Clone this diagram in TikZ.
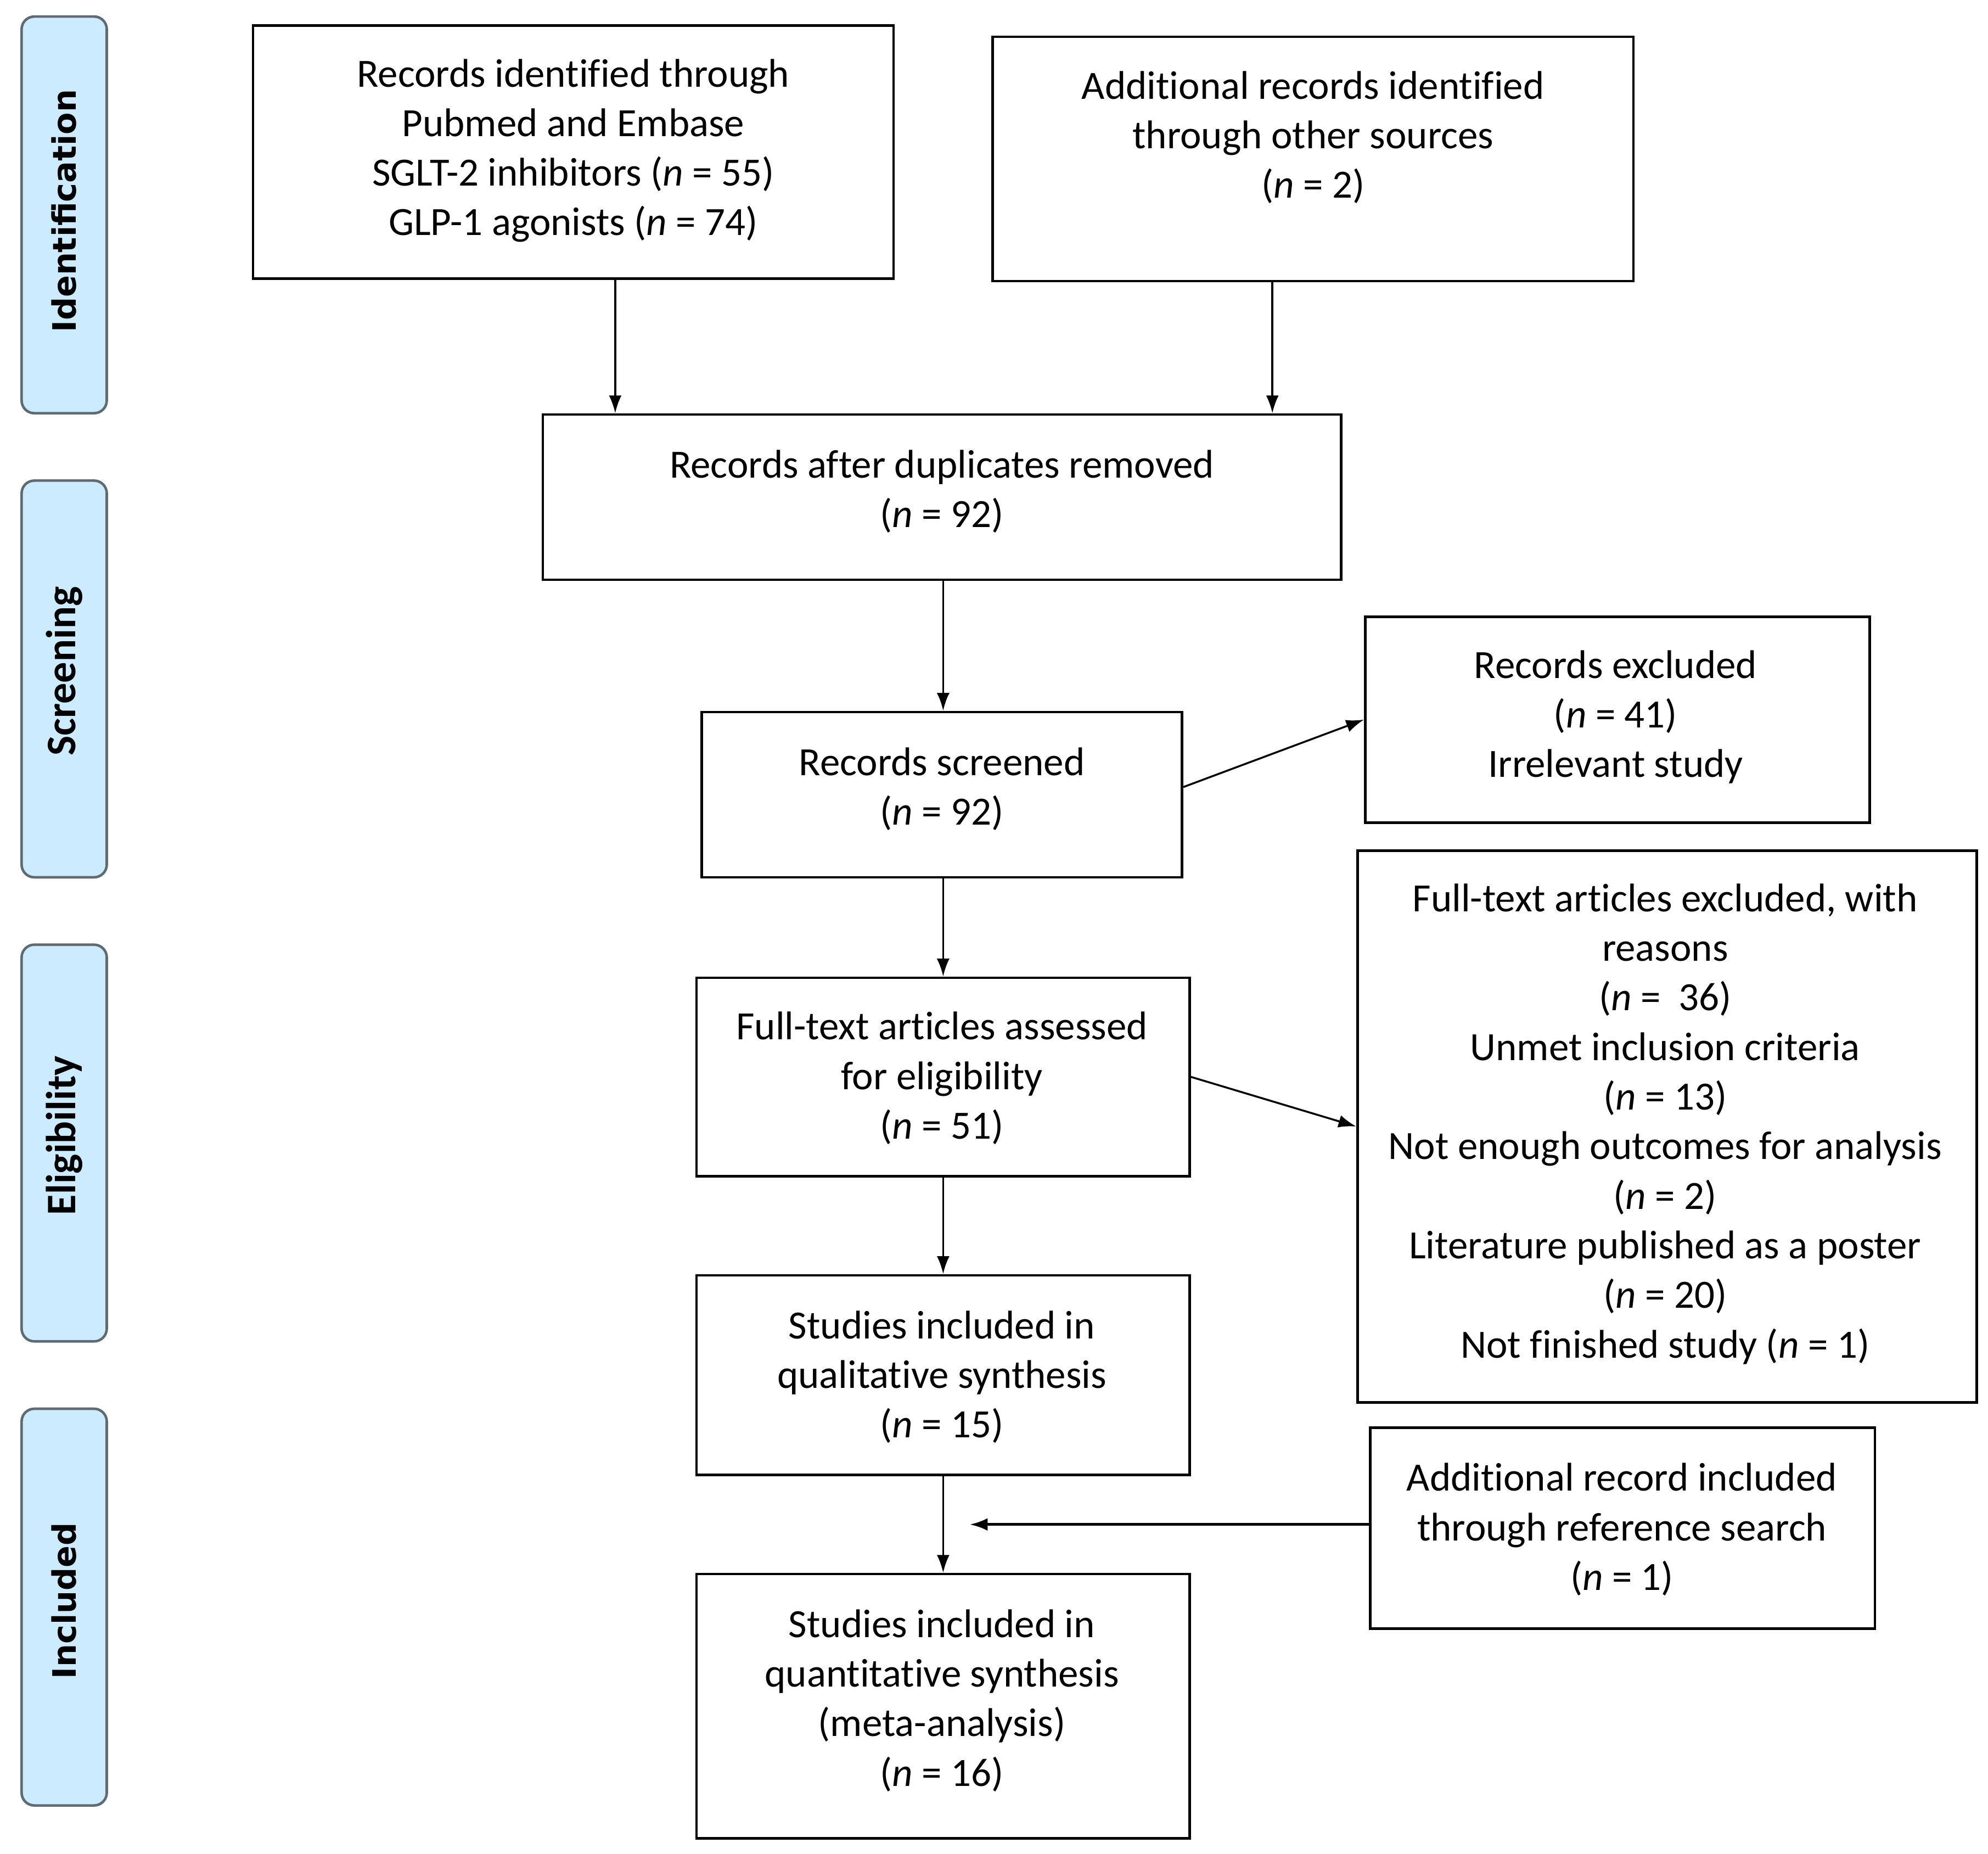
\documentclass[tikz,border=0pt]{standalone}
\usepackage{fontspec}
\setmainfont{Carlito}[Ligatures=NoCommon]
\newfontfamily\dejavu{DejaVu Sans}
\usetikzlibrary{arrows.meta}
\definecolor{tabfill}{HTML}{CCEBFE}
\definecolor{tabdraw}{HTML}{5F6B73}
\tikzset{
  box/.style={draw=black, line width=1pt, rectangle, inner sep=0pt},
  txt/.style={align=center, inner sep=0pt, font=\fontsize{15.75}{19.5}\selectfont},
  tab/.style={draw=tabdraw, line width=1pt, fill=tabfill, rounded corners=5pt,
    minimum width=33.5pt, minimum height=156pt, inner sep=0pt},
  tablabel/.style={rotate=90, inner sep=0pt},
  arr/.style={line width=0.75pt, -{Latex[length=7pt,width=5pt]}},
}
\begin{document}
\begin{tikzpicture}[x=0.5pt,y=-0.5pt]
\useasboundingbox (0,0) rectangle (1564,1458.2);
% phase tabs
\node[tab] (T1) at (50.5,169) {};
\node[tablabel, font=\dejavu\bfseries\fontsize{12.7}{14}\selectfont] (L1) at (50.5,166) {Identification};
\node[tab] (T2) at (50.5,534) {};
\node[tablabel, font=\bfseries\fontsize{16.5}{18}\selectfont] (L2) at (50.5,528) {Screening};
\node[tab] (T3) at (50.5,899) {};
\node[tablabel, font=\bfseries\fontsize{16.5}{18}\selectfont] (L3) at (50.5,893) {Eligibility};
\node[tab] (T4) at (50.5,1264) {};
\node[tablabel, font=\dejavu\bfseries\fontsize{12.7}{14}\selectfont] (L4) at (50.5,1259) {Included};
% boxes
\node[box, minimum width=252pt, minimum height=99.5pt] (A) at (451,119.5) {};
\node[txt] (At) at (451,118.5) {Records identified through\\Pubmed and Embase\\SGLT-2 inhibitors (\textit{n} = 55)\\GLP-1 agonists (\textit{n} = 74)};
\node[box, minimum width=252pt, minimum height=96pt] (B) at (1033,125) {};
\node[txt] (Bt) at (1033,108) {Additional records identified\\through other sources\\(\textit{n} = 2)};
\node[box, minimum width=314pt, minimum height=65pt] (C) at (741,391) {};
\node[txt] (Ct) at (741,386.5) {Records after duplicates removed\\(\textit{n} = 92)};
\node[box, minimum width=189pt, minimum height=65pt] (D) at (741,625) {};
\node[txt] (Dt) at (741,620.5) {Records screened\\(\textit{n} = 92)};
\node[box, minimum width=198.5pt, minimum height=81pt] (E) at (1272.5,566) {};
\node[txt] (Et) at (1271,564) {Records excluded\\(\textit{n} = 41)\\Irrelevant study};
\node[box, minimum width=194pt, minimum height=78pt] (F) at (742,847) {};
\node[txt] (Ft) at (741,848) {Full-text articles assessed\\for eligibility\\(\textit{n} = 51)};
\node[box, minimum width=243.5pt, minimum height=217pt] (G) at (1311.5,886) {};
\node[txt] (Gt) at (1310,884) {Full-text articles excluded, with\\reasons\\(\textit{n} =\ \ 36)\\Unmet inclusion criteria\\(\textit{n} = 13)\\Not enough outcomes for analysis\\(\textit{n} = 2)\\Literature published as a poster\\(\textit{n} = 20)\\Not finished study (\textit{n} = 1)};
\node[box, minimum width=194pt, minimum height=78.5pt] (H) at (742,1081.5) {};
\node[txt] (Ht) at (741,1083) {Studies included in\\qualitative synthesis\\(\textit{n} = 15)};
\node[box, minimum width=198.5pt, minimum height=79pt] (I) at (1276.5,1202) {};
\node[txt] (It) at (1276,1203) {Additional record included\\through reference search\\(\textit{n} = 1)};
\node[box, minimum width=194pt, minimum height=104pt] (J) at (742,1342) {};
\node[txt] (Jt) at (741,1337.5) {Studies included in\\quantitative synthesis\\(meta-analysis)\\(\textit{n} = 16)};
% connectors
\coordinate (xa) at (484,0);
\coordinate (xb) at (1001,0);
\coordinate (xm) at (742,0);
\coordinate (iend) at (763,1199);
\draw[arr] (A.south -| xa) -- (C.north -| xa);
\draw[arr] (B.south -| xb) -- (C.north -| xb);
\draw[arr] (C.south -| xm) -- (D.north -| xm);
\draw[arr] ([yshift=3pt]D.east) -- (E.west);
\draw[arr] (D.south -| xm) -- (F.north -| xm);
\draw[arr] (F.east) -- (G.west);
\draw[arr] (F.south -| xm) -- (H.north -| xm);
\draw[arr] (H.south -| xm) -- (J.north -| xm);
\draw[arr, line width=1pt] (I.west |- iend) -- (iend);
\end{tikzpicture}
\end{document}
